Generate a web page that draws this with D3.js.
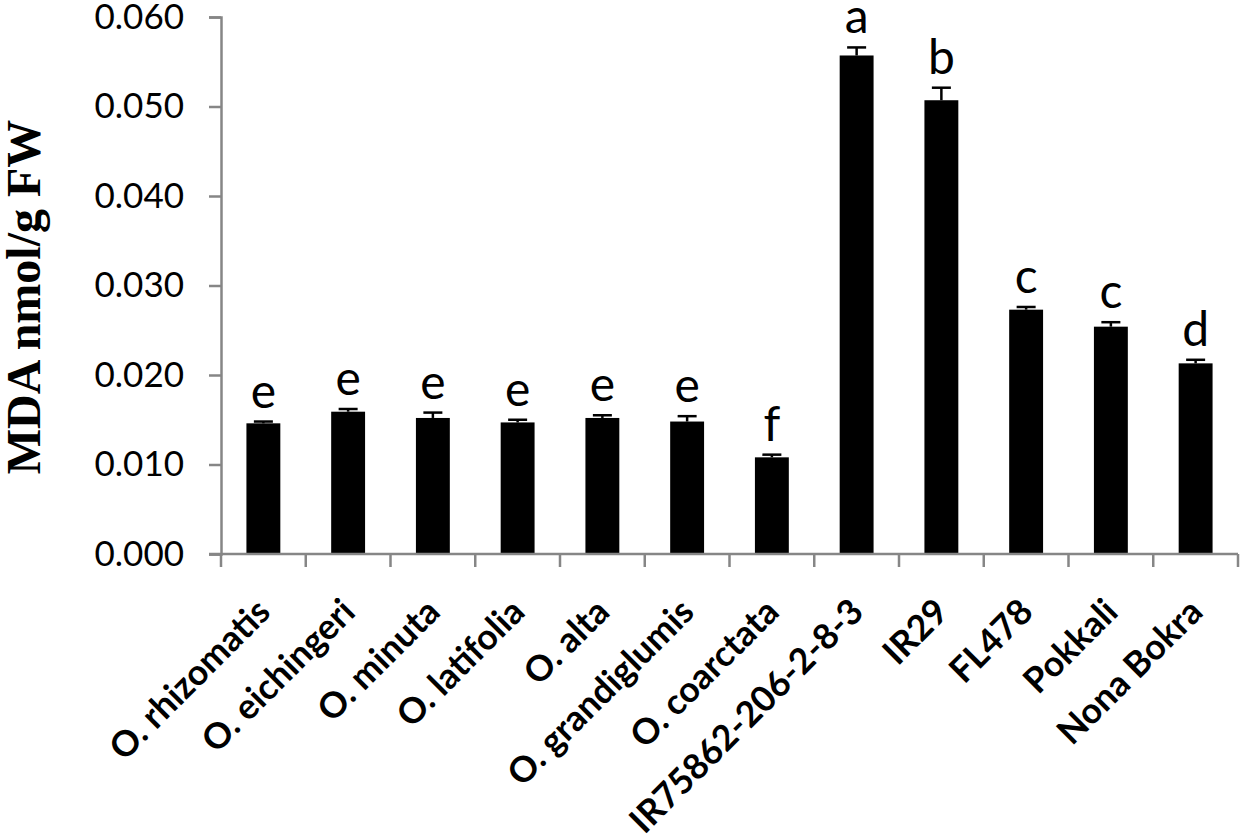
<!DOCTYPE html>
<html>
<head>
<meta charset="utf-8">
<script src="https://cdn.jsdelivr.net/npm/d3@7"></script>
<style>
  body { margin: 0; background: #fff; }
  svg { display: block; }
</style>
</head>
<body>
<div id="chart"></div>
<script>
// genotypes, MDA means, upward error (SE) and significance letters
var categories = ["O. rhizomatis", "O. eichingeri", "O. minuta", "O. latifolia", "O. alta",
    "O. grandiglumis", "O. coarctata", "IR75862-206-2-8-3", "IR29", "FL478", "Pokkali", "Nona Bokra"];
var mdaValues = [0.0146, 0.0159, 0.0152, 0.0147, 0.0152, 0.0148, 0.0108, 0.0557, 0.0507, 0.0273, 0.0254, 0.0213];
var mdaErrors = [0.0002, 0.0003, 0.0006, 0.0003, 0.0003, 0.0006, 0.0003, 0.0009, 0.0014, 0.0003, 0.0005, 0.0004];
var letters = ["e", "e", "e", "e", "e", "e", "f", "a", "b", "c", "c", "d"];
var yTicks = [0, 0.01, 0.02, 0.03, 0.04, 0.05, 0.06];

var width = 1242, height = 836;
var margin = { top: 17, right: 4, bottom: 282, left: 221 };
var axisColor = "#868686";

var svg = d3.select("#chart").append("svg")
    .attr("width", width)
    .attr("height", height);

var x = d3.scaleBand()
    .domain(categories)
    .range([margin.left, width - margin.right])
    .padding(0);

var y = d3.scaleLinear()
    .domain([0, 0.06])
    .range([height - margin.bottom, margin.top]);

var barW = x.bandwidth() * 0.4;

// y axis
var yAxis = svg.append("g")
    .attr("transform", "translate(" + margin.left + ",0)")
    .call(d3.axisLeft(y).tickValues(yTicks).tickFormat(d3.format(".3f")).tickSize(12).tickPadding(25));
yAxis.select(".domain").attr("stroke", axisColor).attr("stroke-width", 2.5);
yAxis.selectAll(".tick line").attr("stroke", axisColor).attr("stroke-width", 2.5);
yAxis.selectAll(".tick text")
    .attr("fill", "#000")
    .style("font-family", "Lato, 'Open Sans', sans-serif")
    .style("font-size", "35px");

// bars
svg.append("g").selectAll("rect")
    .data(mdaValues)
    .join("rect")
    .attr("x", function (d, i) { return x(categories[i]) + (x.bandwidth() - barW) / 2; })
    .attr("y", function (d) { return y(d); })
    .attr("width", barW)
    .attr("height", function (d) { return y(0) - y(d); })
    .attr("fill", "#000");

// error bars, upward only
var eb = svg.append("g").attr("stroke", "#000").attr("stroke-width", 2.5);
mdaValues.forEach(function (d, i) {
    var cx = x(categories[i]) + x.bandwidth() / 2;
    eb.append("line")
        .attr("x1", cx).attr("x2", cx)
        .attr("y1", y(d)).attr("y2", y(d + mdaErrors[i]));
    eb.append("line")
        .attr("x1", cx - 9.5).attr("x2", cx + 9.5)
        .attr("y1", y(d + mdaErrors[i])).attr("y2", y(d + mdaErrors[i]));
});

// x axis
var xAxis = svg.append("g")
    .attr("transform", "translate(0," + y(0) + ")");
xAxis.append("line")
    .attr("x1", margin.left - 12).attr("x2", width - margin.right)
    .attr("stroke", axisColor).attr("stroke-width", 2.5);
xAxis.selectAll(".xtick")
    .data(categories.concat(["end"]))
    .join("line")
    .attr("class", "xtick")
    .attr("x1", function (d, i) { return i < categories.length ? x(d) : x.range()[1]; })
    .attr("x2", function (d, i) { return i < categories.length ? x(d) : x.range()[1]; })
    .attr("y1", 0).attr("y2", 13)
    .attr("stroke", axisColor).attr("stroke-width", 2.5);

xAxis.selectAll(".xlabel")
    .data(categories)
    .join("text")
    .attr("class", "xlabel")
    .attr("transform", function (d) {
        return "translate(" + (x(d) + x.bandwidth() / 2 + 9) + ",60) rotate(-45)";
    })
    .attr("text-anchor", "end")
    .style("font-family", "Lato, 'Open Sans', sans-serif")
    .style("font-weight", "bold")
    .style("font-size", "35.5px")
    .text(function (d) { return d; });

// significance letters
svg.append("g").selectAll("text")
    .data(letters)
    .join("text")
    .attr("x", function (d, i) { return x(categories[i]) + x.bandwidth() / 2; })
    .attr("y", function (d, i) { return y(mdaValues[i] + mdaErrors[i]) - 14; })
    .attr("text-anchor", "middle")
    .style("font-family", "Lato, 'Open Sans', sans-serif")
    .style("font-size", "48px")
    .text(function (d) { return d; });

// y title
svg.append("text")
    .attr("transform", "translate(40,297) rotate(-90)")
    .attr("text-anchor", "middle")
    .style("font-family", "'Liberation Serif', 'Times New Roman', serif")
    .style("font-weight", "bold")
    .style("font-size", "48px")
    .text("MDA nmol/g FW");
</script>
</body>
</html>
